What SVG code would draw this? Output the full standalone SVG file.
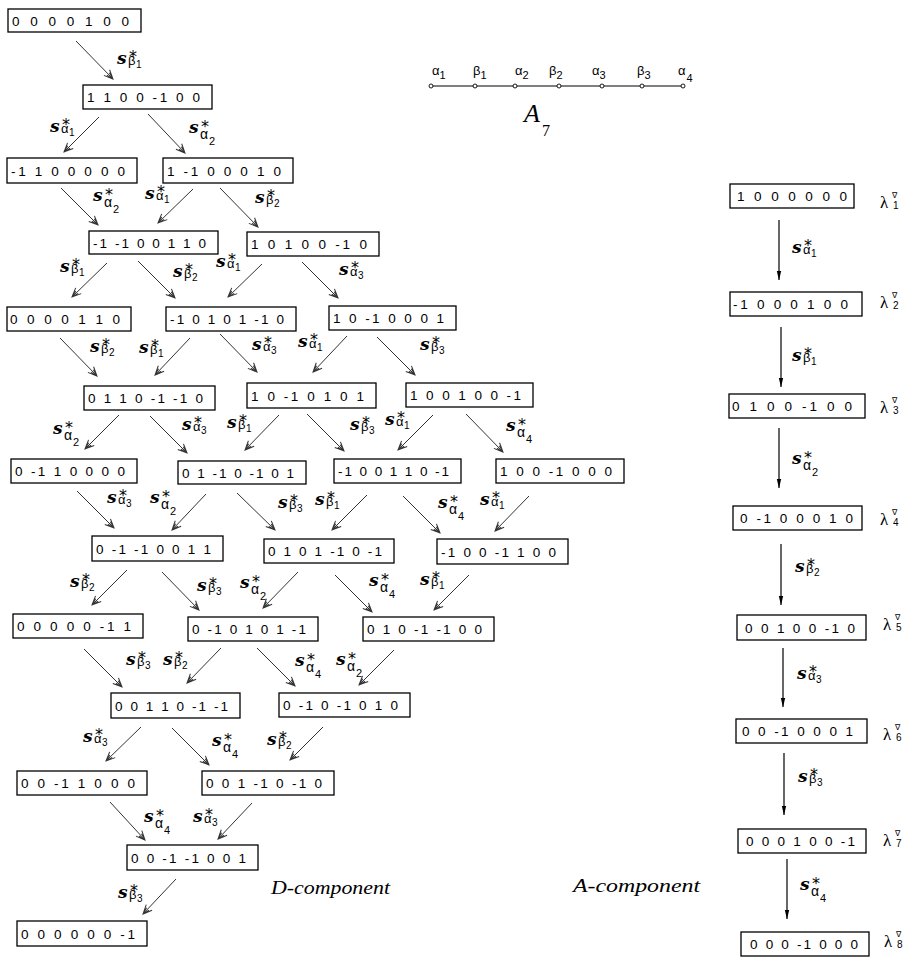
<svg xmlns="http://www.w3.org/2000/svg" width="907" height="959" viewBox="0 0 907 959">
<style>
.bx{fill:#fff;stroke:#000;stroke-width:1.3}
.bt{font-family:"Liberation Sans",Arial,sans-serif;font-size:13.5px;fill:#000}
.ar{stroke:#333;stroke-width:1;fill:none;marker-end:url(#oa)}
.vr{stroke:#000;stroke-width:1.2;fill:none;marker-end:url(#fa)}
.s{font-family:"DejaVu Serif",serif;font-weight:bold;font-style:italic;font-size:17px}
.k{font-family:"DejaVu Sans",sans-serif;font-weight:normal;font-style:normal;font-size:16px}
.g{font-family:"Liberation Sans",sans-serif;font-weight:normal;font-style:normal;font-size:13px}
.d{font-family:"Liberation Sans",sans-serif;font-weight:normal;font-style:normal;font-size:10px}
.g2{font-family:"Liberation Sans",sans-serif;font-weight:normal;font-style:normal;font-size:14px}
.d2{font-family:"Liberation Sans",sans-serif;font-weight:normal;font-style:normal;font-size:11px}
.lam{font-family:"Liberation Serif",serif;font-size:17px}
.nab{font-family:"DejaVu Sans",sans-serif;font-size:8px}
.gl{font-family:"Liberation Sans",sans-serif;font-size:13px}
.gd{font-size:11px}
.cap{font-family:"Liberation Serif",serif;font-style:italic;font-size:18px}
</style>
<defs>
<marker id="oa" markerWidth="12" markerHeight="10" refX="10" refY="5" orient="auto" markerUnits="userSpaceOnUse" viewBox="0 0 12 10"><path d="M1,1 L10,5 L1,9 M3,3.3 L10,5 L3,6.7" fill="none" stroke="#333" stroke-width="1"/></marker>
<marker id="fa" markerWidth="10" markerHeight="6" refX="9" refY="3" orient="auto" markerUnits="userSpaceOnUse" viewBox="0 0 10 6"><path d="M0,0.8 L9,3 L0,5.2 Z" fill="#000"/></marker>
</defs>
<rect width="907" height="959" fill="#fff"/>

<g id="connectors">
<line class="ar" x1="76" y1="41" x2="113" y2="79"/>
<line class="ar" x1="99" y1="117" x2="64" y2="152"/>
<line class="ar" x1="148" y1="114" x2="185" y2="153"/>
<line class="ar" x1="61" y1="188" x2="98" y2="225"/>
<line class="ar" x1="193" y1="189" x2="158" y2="223"/>
<line class="ar" x1="220" y1="188" x2="258" y2="227"/>
<line class="ar" x1="107" y1="263" x2="72" y2="297"/>
<line class="ar" x1="138" y1="261" x2="175" y2="298"/>
<line class="ar" x1="262" y1="264" x2="228" y2="297"/>
<line class="ar" x1="302" y1="262" x2="338" y2="298"/>
<line class="ar" x1="60" y1="338" x2="97" y2="376"/>
<line class="ar" x1="190" y1="338" x2="155" y2="375"/>
<line class="ar" x1="220" y1="334" x2="257" y2="372"/>
<line class="ar" x1="347" y1="336" x2="313" y2="372"/>
<line class="ar" x1="377" y1="337" x2="415" y2="375"/>
<line class="ar" x1="119" y1="415" x2="85" y2="449"/>
<line class="ar" x1="150" y1="416" x2="187" y2="453"/>
<line class="ar" x1="279" y1="415" x2="245" y2="450"/>
<line class="ar" x1="307" y1="414" x2="344" y2="451"/>
<line class="ar" x1="433" y1="415" x2="398" y2="450"/>
<line class="ar" x1="466" y1="414" x2="503" y2="452"/>
<line class="ar" x1="77" y1="491" x2="114" y2="528"/>
<line class="ar" x1="206" y1="494" x2="172" y2="530"/>
<line class="ar" x1="237" y1="493" x2="275" y2="530"/>
<line class="ar" x1="367" y1="495" x2="332" y2="530"/>
<line class="ar" x1="403" y1="496" x2="440" y2="533"/>
<line class="ar" x1="529" y1="496" x2="495" y2="531"/>
<line class="ar" x1="127" y1="570" x2="92" y2="605"/>
<line class="ar" x1="162" y1="572" x2="199" y2="610"/>
<line class="ar" x1="298" y1="572" x2="263" y2="608"/>
<line class="ar" x1="335" y1="575" x2="372" y2="612"/>
<line class="ar" x1="469" y1="575" x2="434" y2="610"/>
<line class="ar" x1="84" y1="649" x2="122" y2="687"/>
<line class="ar" x1="221" y1="648" x2="187" y2="683"/>
<line class="ar" x1="257" y1="648" x2="295" y2="686"/>
<line class="ar" x1="394" y1="650" x2="359" y2="685"/>
<line class="ar" x1="141" y1="727" x2="106" y2="761"/>
<line class="ar" x1="172" y1="728" x2="209" y2="765"/>
<line class="ar" x1="323" y1="727" x2="290" y2="760"/>
<line class="ar" x1="110" y1="802" x2="145" y2="840"/>
<line class="ar" x1="252" y1="803" x2="218" y2="839"/>
<line class="ar" x1="176" y1="879" x2="143" y2="914"/>
<line class="vr" x1="779" y1="220" x2="779" y2="280"/>
<line class="vr" x1="781" y1="327" x2="781" y2="387"/>
<line class="vr" x1="779" y1="428" x2="779" y2="488"/>
<line class="vr" x1="781" y1="544" x2="781" y2="605"/>
<line class="vr" x1="783" y1="648" x2="783" y2="707"/>
<line class="vr" x1="784" y1="753" x2="784" y2="815"/>
<line class="vr" x1="787" y1="859" x2="787" y2="919"/>
</g>

<g id="labels">
<text class="s" transform="translate(117,64)">s<tspan class="k" x="12" y="-2">*</tspan><tspan class="g" x="11" y="1">β</tspan><tspan class="d" x="19" y="4">1</tspan></text>
<text class="s" transform="translate(50,132)">s<tspan class="k" x="12" y="-2">*</tspan><tspan class="g" x="11" y="1">α</tspan><tspan class="d" x="19" y="4">1</tspan></text>
<text class="s" transform="translate(189,133)">s<tspan class="k" x="12" y="-1">*</tspan><tspan class="g2" x="11" y="6">α</tspan><tspan class="d2" x="20" y="12">2</tspan></text>
<text class="s" transform="translate(93,201)">s<tspan class="k" x="12" y="-1">*</tspan><tspan class="g2" x="11" y="6">α</tspan><tspan class="d2" x="20" y="12">2</tspan></text>
<text class="s" transform="translate(145,199)">s<tspan class="k" x="12" y="-2">*</tspan><tspan class="g" x="11" y="1">α</tspan><tspan class="d" x="19" y="4">1</tspan></text>
<text class="s" transform="translate(255,203)">s<tspan class="k" x="12" y="-2">*</tspan><tspan class="g" x="11" y="1">β</tspan><tspan class="d" x="19" y="4">2</tspan></text>
<text class="s" transform="translate(60,272)">s<tspan class="k" x="12" y="-2">*</tspan><tspan class="g" x="11" y="1">β</tspan><tspan class="d" x="19" y="4">1</tspan></text>
<text class="s" transform="translate(173,277)">s<tspan class="k" x="12" y="-2">*</tspan><tspan class="g" x="11" y="1">β</tspan><tspan class="d" x="19" y="4">2</tspan></text>
<text class="s" transform="translate(216,267)">s<tspan class="k" x="12" y="-2">*</tspan><tspan class="g" x="11" y="1">α</tspan><tspan class="d" x="19" y="4">1</tspan></text>
<text class="s" transform="translate(339,275)">s<tspan class="k" x="12" y="-2">*</tspan><tspan class="g" x="11" y="1">α</tspan><tspan class="d" x="19" y="4">3</tspan></text>
<text class="s" transform="translate(90,352)">s<tspan class="k" x="12" y="-2">*</tspan><tspan class="g" x="11" y="1">β</tspan><tspan class="d" x="19" y="4">2</tspan></text>
<text class="s" transform="translate(139,353)">s<tspan class="k" x="12" y="-2">*</tspan><tspan class="g" x="11" y="1">β</tspan><tspan class="d" x="19" y="4">1</tspan></text>
<text class="s" transform="translate(252,350)">s<tspan class="k" x="12" y="-2">*</tspan><tspan class="g" x="11" y="1">α</tspan><tspan class="d" x="19" y="4">3</tspan></text>
<text class="s" transform="translate(298,347)">s<tspan class="k" x="12" y="-2">*</tspan><tspan class="g" x="11" y="1">α</tspan><tspan class="d" x="19" y="4">1</tspan></text>
<text class="s" transform="translate(420,350)">s<tspan class="k" x="12" y="-2">*</tspan><tspan class="g" x="11" y="1">β</tspan><tspan class="d" x="19" y="4">3</tspan></text>
<text class="s" transform="translate(53,434)">s<tspan class="k" x="12" y="-1">*</tspan><tspan class="g2" x="11" y="6">α</tspan><tspan class="d2" x="20" y="12">2</tspan></text>
<text class="s" transform="translate(182,430)">s<tspan class="k" x="12" y="-2">*</tspan><tspan class="g" x="11" y="1">α</tspan><tspan class="d" x="19" y="4">3</tspan></text>
<text class="s" transform="translate(227,428)">s<tspan class="k" x="12" y="-2">*</tspan><tspan class="g" x="11" y="1">β</tspan><tspan class="d" x="19" y="4">1</tspan></text>
<text class="s" transform="translate(350,430)">s<tspan class="k" x="12" y="-2">*</tspan><tspan class="g" x="11" y="1">β</tspan><tspan class="d" x="19" y="4">3</tspan></text>
<text class="s" transform="translate(385,425)">s<tspan class="k" x="12" y="-2">*</tspan><tspan class="g" x="11" y="1">α</tspan><tspan class="d" x="19" y="4">1</tspan></text>
<text class="s" transform="translate(506,431)">s<tspan class="k" x="12" y="-1">*</tspan><tspan class="g2" x="11" y="6">α</tspan><tspan class="d2" x="20" y="12">4</tspan></text>
<text class="s" transform="translate(107,503)">s<tspan class="k" x="12" y="-2">*</tspan><tspan class="g" x="11" y="1">α</tspan><tspan class="d" x="19" y="4">3</tspan></text>
<text class="s" transform="translate(150,503)">s<tspan class="k" x="12" y="-1">*</tspan><tspan class="g2" x="11" y="6">α</tspan><tspan class="d2" x="20" y="12">2</tspan></text>
<text class="s" transform="translate(278,508)">s<tspan class="k" x="12" y="-2">*</tspan><tspan class="g" x="11" y="1">β</tspan><tspan class="d" x="19" y="4">3</tspan></text>
<text class="s" transform="translate(315,505)">s<tspan class="k" x="12" y="-2">*</tspan><tspan class="g" x="11" y="1">β</tspan><tspan class="d" x="19" y="4">1</tspan></text>
<text class="s" transform="translate(438,508)">s<tspan class="k" x="12" y="-1">*</tspan><tspan class="g2" x="11" y="6">α</tspan><tspan class="d2" x="20" y="12">4</tspan></text>
<text class="s" transform="translate(480,505)">s<tspan class="k" x="12" y="-2">*</tspan><tspan class="g" x="11" y="1">α</tspan><tspan class="d" x="19" y="4">1</tspan></text>
<text class="s" transform="translate(70,587)">s<tspan class="k" x="12" y="-2">*</tspan><tspan class="g" x="11" y="1">β</tspan><tspan class="d" x="19" y="4">2</tspan></text>
<text class="s" transform="translate(197,591)">s<tspan class="k" x="12" y="-2">*</tspan><tspan class="g" x="11" y="1">β</tspan><tspan class="d" x="19" y="4">3</tspan></text>
<text class="s" transform="translate(240,588)">s<tspan class="k" x="12" y="-1">*</tspan><tspan class="g2" x="11" y="6">α</tspan><tspan class="d2" x="20" y="12">2</tspan></text>
<text class="s" transform="translate(369,586)">s<tspan class="k" x="12" y="-1">*</tspan><tspan class="g2" x="11" y="6">α</tspan><tspan class="d2" x="20" y="12">4</tspan></text>
<text class="s" transform="translate(420,585)">s<tspan class="k" x="12" y="-2">*</tspan><tspan class="g" x="11" y="1">β</tspan><tspan class="d" x="19" y="4">1</tspan></text>
<text class="s" transform="translate(126,665)">s<tspan class="k" x="12" y="-2">*</tspan><tspan class="g" x="11" y="1">β</tspan><tspan class="d" x="19" y="4">3</tspan></text>
<text class="s" transform="translate(163,665)">s<tspan class="k" x="12" y="-2">*</tspan><tspan class="g" x="11" y="1">β</tspan><tspan class="d" x="19" y="4">2</tspan></text>
<text class="s" transform="translate(295,666)">s<tspan class="k" x="12" y="-1">*</tspan><tspan class="g2" x="11" y="6">α</tspan><tspan class="d2" x="20" y="12">4</tspan></text>
<text class="s" transform="translate(336,665)">s<tspan class="k" x="12" y="-1">*</tspan><tspan class="g2" x="11" y="6">α</tspan><tspan class="d2" x="20" y="12">2</tspan></text>
<text class="s" transform="translate(83,742)">s<tspan class="k" x="12" y="-2">*</tspan><tspan class="g" x="11" y="1">α</tspan><tspan class="d" x="19" y="4">3</tspan></text>
<text class="s" transform="translate(212,746)">s<tspan class="k" x="12" y="-1">*</tspan><tspan class="g2" x="11" y="6">α</tspan><tspan class="d2" x="20" y="12">4</tspan></text>
<text class="s" transform="translate(267,745)">s<tspan class="k" x="12" y="-2">*</tspan><tspan class="g" x="11" y="1">β</tspan><tspan class="d" x="19" y="4">2</tspan></text>
<text class="s" transform="translate(144,822)">s<tspan class="k" x="12" y="-1">*</tspan><tspan class="g2" x="11" y="6">α</tspan><tspan class="d2" x="20" y="12">4</tspan></text>
<text class="s" transform="translate(193,822)">s<tspan class="k" x="12" y="-2">*</tspan><tspan class="g" x="11" y="1">α</tspan><tspan class="d" x="19" y="4">3</tspan></text>
<text class="s" transform="translate(118,898)">s<tspan class="k" x="12" y="-2">*</tspan><tspan class="g" x="11" y="1">β</tspan><tspan class="d" x="19" y="4">3</tspan></text>
<text class="s" transform="translate(792,253)">s<tspan class="k" x="12" y="-2">*</tspan><tspan class="g" x="11" y="1">α</tspan><tspan class="d" x="19" y="4">1</tspan></text>
<text class="s" transform="translate(792,361)">s<tspan class="k" x="12" y="-2">*</tspan><tspan class="g" x="11" y="1">β</tspan><tspan class="d" x="19" y="4">1</tspan></text>
<text class="s" transform="translate(792,464)">s<tspan class="k" x="12" y="-1">*</tspan><tspan class="g2" x="11" y="6">α</tspan><tspan class="d2" x="20" y="12">2</tspan></text>
<text class="s" transform="translate(795,572)">s<tspan class="k" x="12" y="-2">*</tspan><tspan class="g" x="11" y="1">β</tspan><tspan class="d" x="19" y="4">2</tspan></text>
<text class="s" transform="translate(797,679)">s<tspan class="k" x="12" y="-2">*</tspan><tspan class="g" x="11" y="1">α</tspan><tspan class="d" x="19" y="4">3</tspan></text>
<text class="s" transform="translate(798,782)">s<tspan class="k" x="12" y="-2">*</tspan><tspan class="g" x="11" y="1">β</tspan><tspan class="d" x="19" y="4">3</tspan></text>
<text class="s" transform="translate(800,890)">s<tspan class="k" x="12" y="-1">*</tspan><tspan class="g2" x="11" y="6">α</tspan><tspan class="d2" x="20" y="12">4</tspan></text>
</g>

<g id="n0"><rect class="bx" x="8" y="9" width="133" height="23"/><text class="bt" x="12" y="25.5" textLength="117" lengthAdjust="spacing">0 0 0 0 1 0 0</text></g>
<g id="n1"><rect class="bx" x="83" y="85" width="129" height="24"/><text class="bt" x="87" y="102" textLength="113" lengthAdjust="spacing">1 1 0 0 -1 0 0</text></g>
<g id="n2a"><rect class="bx" x="7" y="158" width="130" height="25"/><text class="bt" x="11" y="175.5" textLength="114" lengthAdjust="spacing">-1 1 0 0 0 0 0</text></g>
<g id="n2b"><rect class="bx" x="163" y="158" width="130" height="25"/><text class="bt" x="167" y="175.5" textLength="114" lengthAdjust="spacing">1 -1 0 0 0 1 0</text></g>
<g id="n3a"><rect class="bx" x="89" y="231" width="129" height="23"/><text class="bt" x="93" y="247.5" textLength="113" lengthAdjust="spacing">-1 -1 0 0 1 1 0</text></g>
<g id="n3b"><rect class="bx" x="247" y="232" width="132" height="24"/><text class="bt" x="251" y="249" textLength="116" lengthAdjust="spacing">1 0 1 0 0 -1 0</text></g>
<g id="n4a"><rect class="bx" x="7" y="307" width="124" height="24"/><text class="bt" x="10" y="324" textLength="110" lengthAdjust="spacing">0 0 0 0 1 1 0</text></g>
<g id="n4b"><rect class="bx" x="166" y="307" width="130" height="24"/><text class="bt" x="170" y="324" textLength="114" lengthAdjust="spacing">-1 0 1 0 1 -1 0</text></g>
<g id="n4c"><rect class="bx" x="329" y="306" width="127" height="24"/><text class="bt" x="333" y="323" textLength="111" lengthAdjust="spacing">1 0 -1 0 0 0 1</text></g>
<g id="n5a"><rect class="bx" x="84" y="386" width="131" height="24"/><text class="bt" x="88" y="403" textLength="115" lengthAdjust="spacing">0 1 1 0 -1 -1 0</text></g>
<g id="n5b"><rect class="bx" x="247" y="383" width="129" height="25"/><text class="bt" x="251" y="400.5" textLength="113" lengthAdjust="spacing">1 0 -1 0 1 0 1</text></g>
<g id="n5c"><rect class="bx" x="406" y="383" width="127" height="24"/><text class="bt" x="410" y="400" textLength="111" lengthAdjust="spacing">1 0 0 1 0 0 -1</text></g>
<g id="n6a"><rect class="bx" x="11" y="459" width="126" height="24"/><text class="bt" x="15" y="476" textLength="110" lengthAdjust="spacing">0 -1 1 0 0 0 0</text></g>
<g id="n6b"><rect class="bx" x="178" y="461" width="128" height="23"/><text class="bt" x="182" y="477.5" textLength="112" lengthAdjust="spacing">0 1 -1 0 -1 0 1</text></g>
<g id="n6c"><rect class="bx" x="334" y="459" width="127" height="24"/><text class="bt" x="338" y="476" textLength="111" lengthAdjust="spacing">-1 0 0 1 1 0 -1</text></g>
<g id="n6d"><rect class="bx" x="496" y="459" width="128" height="24"/><text class="bt" x="500" y="476" textLength="112" lengthAdjust="spacing">1 0 0 -1 0 0 0</text></g>
<g id="n7a"><rect class="bx" x="92" y="536" width="131" height="25"/><text class="bt" x="96" y="553.5" textLength="115" lengthAdjust="spacing">0 -1 -1 0 0 1 1</text></g>
<g id="n7b"><rect class="bx" x="264" y="539" width="130" height="24"/><text class="bt" x="268" y="556" textLength="114" lengthAdjust="spacing">0 1 0 1 -1 0 -1</text></g>
<g id="n7c"><rect class="bx" x="437" y="539" width="131" height="25"/><text class="bt" x="441" y="556.5" textLength="115" lengthAdjust="spacing">-1 0 0 -1 1 0 0</text></g>
<g id="n8a"><rect class="bx" x="13" y="614" width="130" height="24"/><text class="bt" x="17" y="631" textLength="114" lengthAdjust="spacing">0 0 0 0 0 -1 1</text></g>
<g id="n8b"><rect class="bx" x="188" y="617" width="130" height="24"/><text class="bt" x="192" y="634" textLength="114" lengthAdjust="spacing">0 -1 0 1 0 1 -1</text></g>
<g id="n8c"><rect class="bx" x="363" y="617" width="131" height="24"/><text class="bt" x="367" y="634" textLength="115" lengthAdjust="spacing">0 1 0 -1 -1 0 0</text></g>
<g id="n9a"><rect class="bx" x="111" y="693" width="129" height="25"/><text class="bt" x="115" y="710.5" textLength="113" lengthAdjust="spacing">0 0 1 1 0 -1 -1</text></g>
<g id="n9b"><rect class="bx" x="279" y="693" width="131" height="24"/><text class="bt" x="283" y="710" textLength="115" lengthAdjust="spacing">0 -1 0 -1 0 1 0</text></g>
<g id="n10a"><rect class="bx" x="17" y="771" width="130" height="24"/><text class="bt" x="21" y="788" textLength="114" lengthAdjust="spacing">0 0 -1 1 0 0 0</text></g>
<g id="n10b"><rect class="bx" x="202" y="771" width="132" height="24"/><text class="bt" x="206" y="788" textLength="116" lengthAdjust="spacing">0 0 1 -1 0 -1 0</text></g>
<g id="n11"><rect class="bx" x="127" y="845" width="131" height="25"/><text class="bt" x="131" y="862.5" textLength="115" lengthAdjust="spacing">0 0 -1 -1 0 0 1</text></g>
<g id="n12"><rect class="bx" x="17" y="921" width="130" height="25"/><text class="bt" x="21" y="938.5" textLength="114" lengthAdjust="spacing">0 0 0 0 0 0 -1</text></g>

<g id="m1"><rect class="bx" x="730" y="184" width="124" height="24"/><text class="bt" x="737" y="201" textLength="110" lengthAdjust="spacing">1 0 0 0 0 0 0</text></g>
<g id="m2"><rect class="bx" x="730" y="292" width="132" height="24"/><text class="bt" x="733" y="309" textLength="115" lengthAdjust="spacing">-1 0 0 0 1 0 0</text></g>
<g id="m3"><rect class="bx" x="729" y="394" width="136" height="24"/><text class="bt" x="732" y="411" textLength="120" lengthAdjust="spacing">0 1 0 0 -1 0 0</text></g>
<g id="m4"><rect class="bx" x="733" y="506" width="129" height="24"/><text class="bt" x="740" y="523" textLength="113" lengthAdjust="spacing">0 -1 0 0 0 1 0</text></g>
<g id="m5"><rect class="bx" x="737" y="615" width="129" height="25"/><text class="bt" x="745" y="632.5" textLength="110" lengthAdjust="spacing">0 0 1 0 0 -1 0</text></g>
<g id="m6"><rect class="bx" x="736" y="719" width="131" height="24"/><text class="bt" x="742" y="736" textLength="111" lengthAdjust="spacing">0 0 -1 0 0 0 1</text></g>
<g id="m7"><rect class="bx" x="738" y="829" width="128" height="24"/><text class="bt" x="746" y="846" textLength="109" lengthAdjust="spacing">0 0 0 1 0 0 -1</text></g>
<g id="m8"><rect class="bx" x="741" y="932" width="128" height="24"/><text class="bt" x="750" y="949" textLength="108" lengthAdjust="spacing">0 0 0 -1 0 0 0</text></g>

<g id="lambdas">
<text class="lam" transform="translate(880,208)">λ<tspan class="nab" x="12" y="-10">∇</tspan><tspan class="d" x="13" y="1">1</tspan></text>
<text class="lam" transform="translate(880,308)">λ<tspan class="nab" x="12" y="-10">∇</tspan><tspan class="d" x="13" y="1">2</tspan></text>
<text class="lam" transform="translate(880,413)">λ<tspan class="nab" x="12" y="-10">∇</tspan><tspan class="d" x="13" y="1">3</tspan></text>
<text class="lam" transform="translate(880,525)">λ<tspan class="nab" x="12" y="-10">∇</tspan><tspan class="d" x="13" y="1">4</tspan></text>
<text class="lam" transform="translate(883,630)">λ<tspan class="nab" x="12" y="-10">∇</tspan><tspan class="d" x="13" y="1">5</tspan></text>
<text class="lam" transform="translate(883,740)">λ<tspan class="nab" x="12" y="-10">∇</tspan><tspan class="d" x="13" y="1">6</tspan></text>
<text class="lam" transform="translate(883,846)">λ<tspan class="nab" x="12" y="-10">∇</tspan><tspan class="d" x="13" y="1">7</tspan></text>
<text class="lam" transform="translate(884,947)">λ<tspan class="nab" x="12" y="-10">∇</tspan><tspan class="d" x="13" y="1">8</tspan></text>
</g>

<g id="dynkin">
<line x1="431" y1="86" x2="683" y2="86" stroke="#000" stroke-width="1"/>
<g fill="#fff" stroke="#000" stroke-width="0.9">
<circle cx="431" cy="86" r="2"/><circle cx="475" cy="86" r="2"/><circle cx="515" cy="86" r="2"/><circle cx="559" cy="86" r="2"/><circle cx="602" cy="86" r="2"/><circle cx="642" cy="86" r="2"/><circle cx="683" cy="86" r="2"/>
</g>
<text class="gl" x="432" y="75">α<tspan class="gd" dy="4">1</tspan></text>
<text class="gl" x="473" y="75">β<tspan class="gd" dy="4">1</tspan></text>
<text class="gl" x="515" y="75">α<tspan class="gd" dy="4">2</tspan></text>
<text class="gl" x="549" y="75">β<tspan class="gd" dy="4">2</tspan></text>
<text class="gl" x="592" y="75">α<tspan class="gd" dy="4">3</tspan></text>
<text class="gl" x="637" y="75">β<tspan class="gd" dy="4">3</tspan></text>
<text class="gl" x="678" y="75">α<tspan class="gd" dx="1" dy="7">4</tspan></text>
<text x="524" y="122" font-family="Liberation Serif, serif" font-style="italic" font-size="26">A<tspan dx="2" dy="14" font-size="16" font-style="normal">7</tspan></text>
</g>

<text class="cap" x="271" y="894" textLength="119" lengthAdjust="spacingAndGlyphs">D-component</text>
<text class="cap" x="573" y="892" textLength="127" lengthAdjust="spacingAndGlyphs">A-component</text>
</svg>
